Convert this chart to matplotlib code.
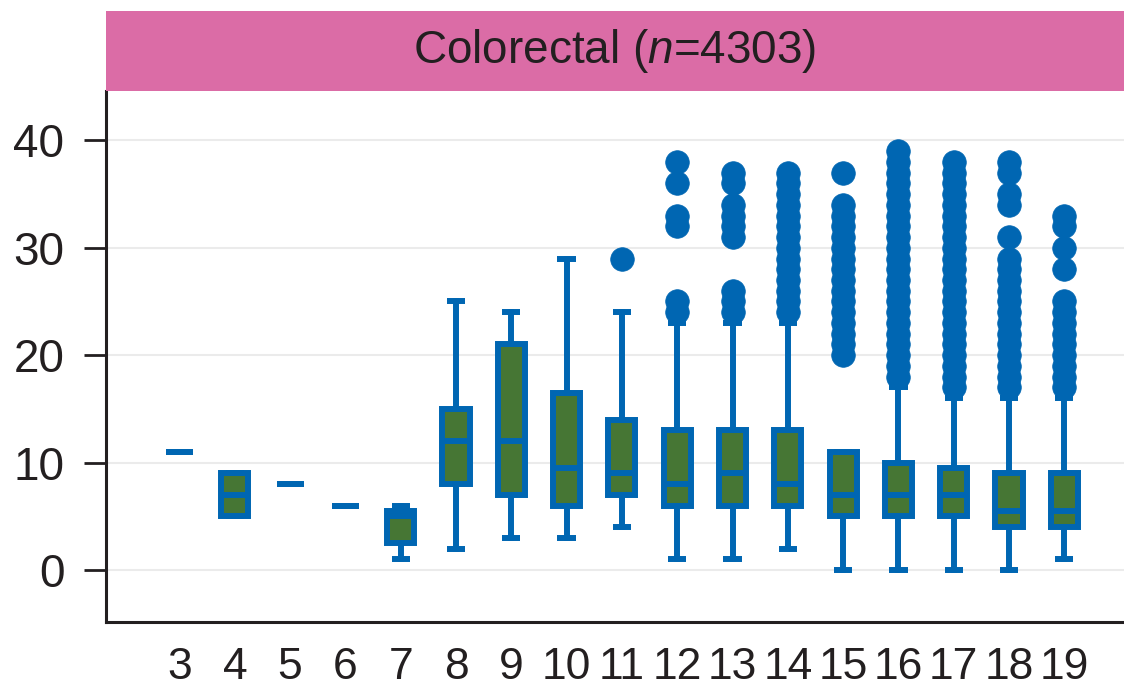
import matplotlib
matplotlib.use("Agg")
import matplotlib.pyplot as plt

# chart values
groups = [3, 4, 5, 6, 7, 8, 9, 10, 11, 12, 13, 14, 15, 16, 17, 18, 19]
q1 = [11, 5, 8, 6, 2.5, 8, 7, 6, 7, 6, 6, 6, 5, 5, 5, 4, 4]
med = [11, 7, 8, 6, 5, 12, 12, 9.5, 9, 8, 9, 8, 7, 7, 7, 5.5, 5.5]
q3 = [11, 9, 8, 6, 5.5, 15, 21, 16.5, 14, 13, 13, 13, 11, 10, 9.5, 9, 9]
whislo = [11, 5, 8, 6, 1, 2, 3, 3, 4, 1, 1, 2, 0, 0, 0, 0, 1]
whishi = [11, 9, 8, 6, 6, 25, 24, 29, 24, 23, 23, 23, 11, 17, 16, 16, 16]
fliers = [
    [], [], [], [], [], [], [], [],
    [29],
    [24, 25, 32, 33, 36, 38],
    [24, 25, 26, 31, 32, 33, 34, 36, 37],
    list(range(24, 38)),
    list(range(20, 35)) + [37],
    list(range(18, 40)),
    list(range(17, 39)),
    list(range(17, 30)) + [31, 34, 35, 37, 38],
    list(range(17, 26)) + [28, 30, 32, 33],
]
title = "Colorectal ($n$=4303)"
yticks = [0, 10, 20, 30, 40]

blue = "#0066B2"
green = "#467634"
pink = "#DB6CA6"
ink = "#231F20"

plt.rcParams["font.family"] = ["Liberation Sans", "DejaVu Sans"]
plt.rcParams["mathtext.fontset"] = "custom"
plt.rcParams["mathtext.rm"] = "Liberation Sans"
plt.rcParams["mathtext.it"] = "Liberation Sans:italic"

fig = plt.figure(figsize=(11.24, 6.92), dpi=100)
ax = fig.add_axes([0.0943, 0.1012, 0.9057, 0.7673])

stats = []
for i, g in enumerate(groups):
    stats.append(dict(label=str(g), q1=q1[i], med=med[i], q3=q3[i],
                      whislo=whislo[i], whishi=whishi[i], fliers=fliers[i]))

lw = 4.3
ax.bxp(stats, positions=groups, widths=0.49, capwidths=0.33,
       patch_artist=True, showfliers=True,
       boxprops=dict(facecolor=green, edgecolor=blue, linewidth=lw),
       medianprops=dict(color=blue, linewidth=lw, solid_capstyle="butt"),
       whiskerprops=dict(color=blue, linewidth=lw),
       capprops=dict(color=blue, linewidth=lw, solid_capstyle="butt"),
       flierprops=dict(marker="o", markerfacecolor=blue, markeredgecolor=blue,
                       markersize=17, markeredgewidth=0.5))

ax.set_xlim(1.67, 20.08)
ax.set_ylim(-4.84, 44.6)
ax.set_yticks(yticks)
ax.set_yticklabels([str(t) for t in yticks])
ax.set_xticks(groups)
ax.set_xticklabels([str(g) for g in groups])
ax.yaxis.grid(True, color="#EBEBEB", linewidth=1.5)
ax.set_axisbelow(True)

for side in ["top", "right"]:
    ax.spines[side].set_visible(False)
for side in ["left", "bottom"]:
    ax.spines[side].set_color(ink)
    ax.spines[side].set_linewidth(2.2)

ax.tick_params(axis="y", length=16, width=2, color=ink, pad=14,
               labelsize=33, labelcolor=ink)
ax.tick_params(axis="x", length=0, pad=18, labelsize=32, labelcolor=ink)

# facet strip on top
strip = fig.add_axes([0.0943, 0.8685, 0.9057, 0.1156])
strip.set_facecolor(pink)
strip.set_xticks([])
strip.set_yticks([])
for s in strip.spines.values():
    s.set_visible(False)
strip.text(0.5, 0.5, title, ha="center", va="center", fontsize=33,
           color=ink, transform=strip.transAxes)

fig.savefig("out.png", dpi=100)
